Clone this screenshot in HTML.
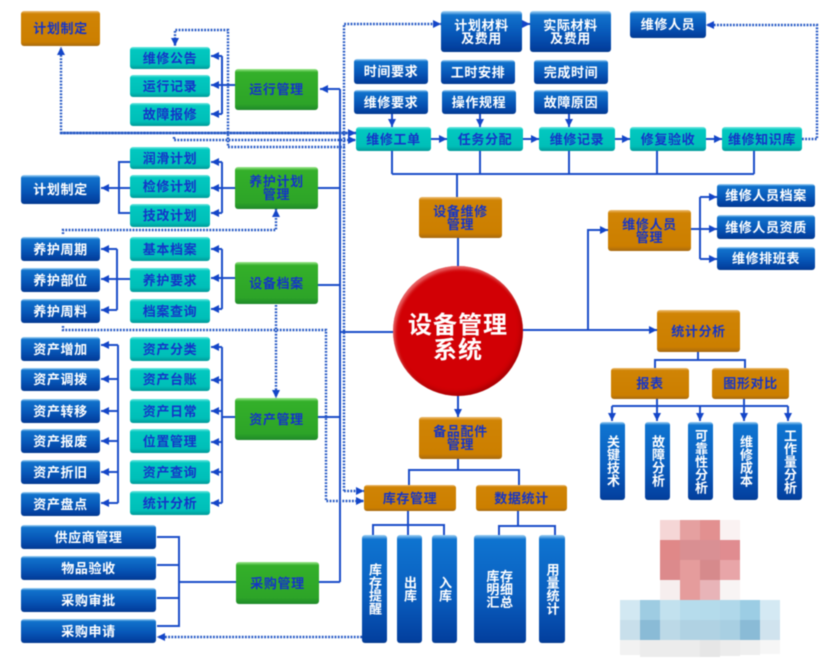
<!DOCTYPE html>
<html lang="zh"><head><meta charset="utf-8"><title>设备管理系统</title>
<style>
html,body{margin:0;padding:0;background:#fff}
#p{position:relative;width:837px;height:663px;overflow:hidden;background:#fff;font-family:"Liberation Sans","Noto Sans CJK SC",sans-serif;font-weight:700;filter:blur(.4px)}
svg{position:absolute;left:0;top:0}
.b{position:absolute;display:flex;align-items:center;justify-content:center;text-align:center;box-sizing:border-box;border-radius:3px;font-size:13px;line-height:13px;letter-spacing:.6px;white-space:nowrap}
.t{color:#1434c8;background:linear-gradient(#6ee8e0 0,#02c8c0 12%,#00bfb8 80%,#019a98 100%)}
.u{color:#fff;background:linear-gradient(#a8d8f8 0,#1172cc 10%,#0757b8 55%,#03409f 90%,#033a8e 100%)}
.g{color:#1434c8;background:linear-gradient(#9ce88c 0,#34b02a 8%,#2da428 85%,#1f8a2a 100%)}
.o{color:#1434c8;background:linear-gradient(#eebc70 0,#d08405 8%,#cc7f00 88%,#a86a10 100%)}
.v{writing-mode:vertical-rl;letter-spacing:0;background:linear-gradient(#9cd0f4 0,#0f74d0 4%,#0a5fc0 55%,#03409f 97%,#033a8e 100%)}
.c{position:absolute;left:393px;top:266px;width:130px;height:130px;box-sizing:border-box;padding-top:14px;border-radius:50%;background:radial-gradient(circle at 50% 50%,#d20005 0,#d20005 80%,#b80010 100%);box-shadow:inset 2px 3px 3px rgba(255,200,200,.5),inset -2px -3px 4px rgba(120,0,0,.45);color:#fff;font-size:24px;line-height:25px;display:flex;align-items:center;justify-content:center;text-align:center;letter-spacing:1px}
.x{position:absolute;width:20px;height:20px}
</style></head><body><div id="p">
<svg width="837" height="663" viewBox="0 0 837 663">
<defs>
<marker id="a" markerUnits="userSpaceOnUse" markerWidth="9" markerHeight="9" refX="8" refY="4.5" orient="auto"><path d="M0,.5L8,4.5L0,8.5z" fill="#1446c8"/></marker>
</defs>
<g fill="none" stroke="#1a4cc8" stroke-width="2">
<path d="M340 89V582M320 89H340" />
<path d="M340 89H320" marker-end="url(#a)"/>
<path d="M318 188H340M318 285H340M318 417H340M319 582H340M340 332H393"/>
<path d="M235 85H222M222 56V114"/><path d="M222 56H211" marker-end="url(#a)"/><path d="M222 85H211" marker-end="url(#a)"/><path d="M222 114H211" marker-end="url(#a)"/>
<path d="M235 188H222M222 162V213"/><path d="M222 162H211" marker-end="url(#a)"/><path d="M222 188H211" marker-end="url(#a)"/><path d="M222 213H211" marker-end="url(#a)"/>
<path d="M130 162H119V213H130"/><path d="M130 188H101" marker-end="url(#a)"/>
<path d="M235 278H222M222 249V309"/><path d="M222 249H211" marker-end="url(#a)"/><path d="M222 278H211" marker-end="url(#a)"/><path d="M222 309H211" marker-end="url(#a)"/>
<path d="M117 249V310M130 279H117"/><path d="M117 249H101" marker-end="url(#a)"/><path d="M117 279H101" marker-end="url(#a)"/><path d="M117 310H101" marker-end="url(#a)"/>
<path d="M235 417H222M222 347V503"/><path d="M222 347H211" marker-end="url(#a)"/><path d="M222 380H211" marker-end="url(#a)"/><path d="M222 411H211" marker-end="url(#a)"/><path d="M222 442H211" marker-end="url(#a)"/><path d="M222 472H211" marker-end="url(#a)"/><path d="M222 503H211" marker-end="url(#a)"/>
<path d="M118 345V503"/><path d="M118 345H101" marker-end="url(#a)"/><path d="M118 379H101" marker-end="url(#a)"/><path d="M118 411H101" marker-end="url(#a)"/><path d="M118 441H101" marker-end="url(#a)"/><path d="M118 472H101" marker-end="url(#a)"/><path d="M118 503H101" marker-end="url(#a)"/>
<path d="M157 537H179V626H157M157 565H179M157 598H179M236 582H179"/>
<path d="M458 266V238M457 197V174M392 174H754M392 151V174M480 151V174M569 151V174M657 151V174M754 151V174"/>
<path d="M392 114V127" marker-end="url(#a)"/><path d="M480 114V127" marker-end="url(#a)"/><path d="M569 114V127" marker-end="url(#a)"/>
<path d="M431 139H447" marker-end="url(#a)"/><path d="M523 139H539" marker-end="url(#a)"/><path d="M615 139H630" marker-end="url(#a)"/><path d="M706 139H722" marker-end="url(#a)"/>
<path d="M522 24H530" marker-end="url(#a)"/>
<path d="M523 330H657" marker-end="url(#a)"/>
<path d="M588 330V230H608" marker-end="url(#a)"/>
<path d="M691 229H700M700 197V259"/><path d="M700 197H717" marker-end="url(#a)"/><path d="M700 229H717" marker-end="url(#a)"/><path d="M700 259H717" marker-end="url(#a)"/>
<path d="M458 396V417" marker-end="url(#a)"/>
<path d="M458 459V470M409 485V470H519V485"/>
<path d="M408 511V535M373 535V525H444V535"/>
<path d="M518 511V526M499 535V526H555V535"/>
<path d="M698 352V360M655 368V360H745V368"/>
<path d="M612 406H788M657 399V406M744 399V406"/>
<path d="M612 406V421" marker-end="url(#a)"/><path d="M657 406V421" marker-end="url(#a)"/><path d="M700 406V421" marker-end="url(#a)"/><path d="M744 406V421" marker-end="url(#a)"/><path d="M788 406V421" marker-end="url(#a)"/>
</g>
<g fill="none" stroke="#2256c4" stroke-width="2.4" stroke-dasharray="1.8 1.4">
<path d="M344 491V24H441" marker-end="url(#a)"/>
<path d="M344 491H364" marker-end="url(#a)"/>
<path d="M63 326V330H326V501H364" marker-end="url(#a)"/>
<path d="M356 133H61V47" marker-end="url(#a)"/>
<path d="M61 133H356" marker-end="url(#a)"/>
<path d="M174 137V140H356" marker-end="url(#a)"/>
<path d="M345 147H228V30H175V46" marker-end="url(#a)"/>
<path d="M63 234V230H276V209" marker-end="url(#a)"/>
<path d="M276 305V398" marker-end="url(#a)"/>
<path d="M802 139H817V25H706" marker-end="url(#a)"/>
<path d="M362 637H157" marker-end="url(#a)"/>
</g>
</svg>

<div class="b o" style="left:21px;top:11px;width:79px;height:35px">计划制定</div>
<div class="b t" style="left:130px;top:47px;width:80px;height:22px">维修公告</div>
<div class="b t" style="left:130px;top:75px;width:80px;height:22px">运行记录</div>
<div class="b t" style="left:130px;top:103px;width:80px;height:23px">故障报修</div>
<div class="b g" style="left:235px;top:69px;width:83px;height:41px">运行管理</div>
<div class="b t" style="left:130px;top:147px;width:80px;height:22px">润滑计划</div>
<div class="b t" style="left:130px;top:175px;width:80px;height:23px">检修计划</div>
<div class="b t" style="left:130px;top:204px;width:80px;height:23px">技改计划</div>
<div class="b u" style="left:21px;top:175px;width:79px;height:29px">计划制定</div>
<div class="b g" style="left:235px;top:167px;width:83px;height:42px">养护计划<br>管理</div>
<div class="b u" style="left:21px;top:237px;width:79px;height:24px">养护周期</div>
<div class="b u" style="left:21px;top:268px;width:79px;height:24px">养护部位</div>
<div class="b u" style="left:21px;top:299px;width:79px;height:24px">养护周料</div>
<div class="b t" style="left:130px;top:237px;width:80px;height:24px">基本档案</div>
<div class="b t" style="left:130px;top:268px;width:80px;height:24px">养护要求</div>
<div class="b t" style="left:130px;top:299px;width:80px;height:24px">档案查询</div>
<div class="b g" style="left:235px;top:262px;width:83px;height:42px">设备档案</div>
<div class="b u" style="left:21px;top:337px;width:79px;height:24px">资产增加</div>
<div class="b u" style="left:21px;top:368px;width:79px;height:23px">资产调拨</div>
<div class="b u" style="left:21px;top:399px;width:79px;height:24px">资产转移</div>
<div class="b u" style="left:21px;top:429px;width:79px;height:24px">资产报废</div>
<div class="b u" style="left:21px;top:460px;width:79px;height:24px">资产折旧</div>
<div class="b u" style="left:21px;top:492px;width:79px;height:24px">资产盘点</div>
<div class="b t" style="left:130px;top:337px;width:80px;height:24px">资产分类</div>
<div class="b t" style="left:130px;top:368px;width:80px;height:23px">资产台账</div>
<div class="b t" style="left:130px;top:399px;width:80px;height:24px">资产日常</div>
<div class="b t" style="left:130px;top:429px;width:80px;height:24px">位置管理</div>
<div class="b t" style="left:130px;top:460px;width:80px;height:24px">资产查询</div>
<div class="b t" style="left:130px;top:491px;width:80px;height:24px">统计分析</div>
<div class="b g" style="left:235px;top:398px;width:83px;height:42px">资产管理</div>
<div class="b u" style="left:21px;top:525px;width:135px;height:24px">供应商管理</div>
<div class="b u" style="left:21px;top:556px;width:135px;height:24px">物品验收</div>
<div class="b u" style="left:21px;top:588px;width:135px;height:24px">采购审批</div>
<div class="b u" style="left:21px;top:619px;width:135px;height:24px">采购申请</div>
<div class="b g" style="left:236px;top:562px;width:83px;height:42px">采购管理</div>

<div class="b u" style="left:441px;top:11px;width:81px;height:41px">计划材料<br>及费用</div>
<div class="b u" style="left:530px;top:11px;width:81px;height:41px">实际材料<br>及费用</div>
<div class="b u" style="left:630px;top:11px;width:76px;height:27px">维修人员</div>
<div class="b u" style="left:354px;top:59px;width:74px;height:25px">时间要求</div>
<div class="b u" style="left:354px;top:90px;width:74px;height:24px">维修要求</div>
<div class="b u" style="left:441px;top:60px;width:74px;height:24px">工时安排</div>
<div class="b u" style="left:442px;top:90px;width:74px;height:24px">操作规程</div>
<div class="b u" style="left:534px;top:60px;width:74px;height:24px">完成时间</div>
<div class="b u" style="left:534px;top:90px;width:74px;height:24px">故障原因</div>
<div class="b t" style="left:356px;top:127px;width:75px;height:24px">维修工单</div>
<div class="b t" style="left:447px;top:127px;width:76px;height:24px">任务分配</div>
<div class="b t" style="left:539px;top:127px;width:76px;height:24px">维修记录</div>
<div class="b t" style="left:630px;top:127px;width:76px;height:24px">修复验收</div>
<div class="b t" style="left:722px;top:127px;width:80px;height:24px">维修知识库</div>
<div class="b o" style="left:419px;top:197px;width:83px;height:41px">设备维修<br>管理</div>
<div class="b o" style="left:608px;top:210px;width:83px;height:41px">维修人员<br>管理</div>
<div class="b u" style="left:717px;top:184px;width:98px;height:23px">维修人员档案</div>
<div class="b u" style="left:717px;top:215px;width:98px;height:24px">维修人员资质</div>
<div class="b u" style="left:717px;top:247px;width:98px;height:23px">维修排班表</div>

<div class="c"><div>设备管理<br>系统</div></div>

<div class="b o" style="left:419px;top:417px;width:83px;height:42px">备品配件<br>管理</div>
<div class="b o" style="left:364px;top:485px;width:92px;height:26px">库存管理</div>
<div class="b o" style="left:476px;top:485px;width:91px;height:26px">数据统计</div>
<div class="b u v" style="left:362px;top:535px;width:25px;height:108px">库存提醒</div>
<div class="b u v" style="left:397px;top:535px;width:25px;height:108px">出库</div>
<div class="b u v" style="left:432px;top:535px;width:25px;height:108px">入库</div>
<div class="b u" style="left:474px;top:535px;width:52px;height:108px;background:linear-gradient(#9cd0f4 0,#0f74d0 4%,#0a5fc0 55%,#03409f 97%,#033a8e 100%)">库存<br>明细<br>汇总</div>
<div class="b u v" style="left:539px;top:535px;width:26px;height:108px">用量统计</div>
<div class="b o" style="left:657px;top:310px;width:83px;height:42px">统计分析</div>
<div class="b o" style="left:611px;top:368px;width:78px;height:31px">报表</div>
<div class="b o" style="left:712px;top:368px;width:77px;height:31px">图形对比</div>
<div class="b u v" style="left:600px;top:422px;width:25px;height:78px">关键技术</div>
<div class="b u v" style="left:645px;top:422px;width:25px;height:78px">故障分析</div>
<div class="b u v" style="left:688px;top:422px;width:25px;height:78px">可靠性分析</div>
<div class="b u v" style="left:733px;top:422px;width:25px;height:78px">维修成本</div>
<div class="b u v" style="left:777px;top:422px;width:25px;height:78px">工作量分析</div>

<div class="x" style="left:660px;top:520px;background:#f5d6d6"></div><div class="x" style="left:680px;top:520px;background:#e5a0a0"></div><div class="x" style="left:700px;top:520px;background:#e29090"></div><div class="x" style="left:720px;top:520px;background:#faf2f2"></div>
<div class="x" style="left:660px;top:540px;background:#e08888"></div><div class="x" style="left:680px;top:540px;background:#d98f92"></div><div class="x" style="left:700px;top:540px;background:#d99094"></div><div class="x" style="left:720px;top:540px;background:#e08c90"></div>
<div class="x" style="left:660px;top:560px;background:#dc8a8c"></div><div class="x" style="left:680px;top:560px;background:#e59c9c"></div><div class="x" style="left:700px;top:560px;background:#d68a8c"></div><div class="x" style="left:720px;top:560px;background:#e8a5a8"></div>
<div class="x" style="left:660px;top:580px;background:#f6eeee"></div><div class="x" style="left:680px;top:580px;background:#e59c9c"></div><div class="x" style="left:700px;top:580px;background:#e8b4b8"></div><div class="x" style="left:720px;top:580px;background:#f8f4f4"></div>
<div class="x" style="left:620px;top:600px;background:#d2e8f2"></div><div class="x" style="left:640px;top:600px;background:#9ecce2"></div><div class="x" style="left:660px;top:600px;background:#c2e1ee"></div><div class="x" style="left:680px;top:600px;background:#b6dcec"></div><div class="x" style="left:700px;top:600px;background:#b4dbeb"></div><div class="x" style="left:720px;top:600px;background:#b0d8ea"></div><div class="x" style="left:740px;top:600px;background:#9ccde4"></div><div class="x" style="left:760px;top:600px;background:#d4e9f3"></div>
<div class="x" style="left:620px;top:620px;background:#c8dfeb"></div><div class="x" style="left:640px;top:620px;background:#8abbd6"></div><div class="x" style="left:660px;top:620px;background:#bcd9e7"></div><div class="x" style="left:680px;top:620px;background:#b0d2e3"></div><div class="x" style="left:700px;top:620px;background:#b0d2e3"></div><div class="x" style="left:720px;top:620px;background:#a8cfe2"></div><div class="x" style="left:740px;top:620px;background:#8abbd6"></div><div class="x" style="left:760px;top:620px;background:#d0e3ee"></div>
<div class="x" style="left:620px;top:640px;height:15px;background:#f2f2f2"></div><div class="x" style="left:640px;top:640px;height:17px;background:#ececec"></div><div class="x" style="left:660px;top:640px;height:17px;background:#ececec"></div><div class="x" style="left:680px;top:640px;height:17px;background:#ececec"></div><div class="x" style="left:700px;top:640px;height:17px;background:#e6e6e6"></div><div class="x" style="left:720px;top:640px;height:16px;background:#ececec"></div><div class="x" style="left:740px;top:640px;height:15px;background:#efefef"></div><div class="x" style="left:760px;top:640px;height:14px;background:#f6f6f6"></div>
</div></body></html>
